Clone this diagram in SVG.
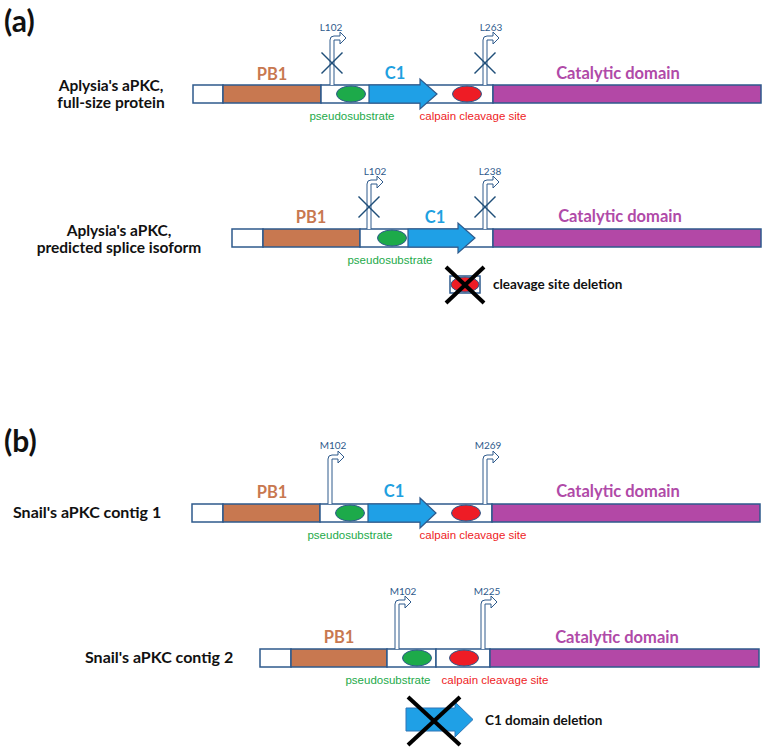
<svg xmlns="http://www.w3.org/2000/svg" width="766" height="752" viewBox="0 0 766 752">
<style>
.bg{fill:#ffffff}
.seg{stroke:#2E5A8C;stroke-width:1.5}
.w{fill:#ffffff}
.pb{fill:#C87850}
.cat{fill:#B348A6}
.c1{fill:#1FA0E6;stroke:#2E5A8C;stroke-width:1.2}
.ps{fill:#1DAA4A;stroke:#2E5A8C;stroke-width:1}
.cl{fill:#EE1C25;stroke:#2E5A8C;stroke-width:1}
.name{font-family:Lato,"Open Sans",sans-serif;font-weight:bold;font-size:16px;fill:#111111}
.name2{font-family:Lato,"Open Sans",sans-serif;font-weight:bold;font-size:15.5px;fill:#111111}
.panel{font-family:Lato,"Open Sans",sans-serif;font-weight:bold;font-size:30px;fill:#111111}
.dl{font-family:Lato,"Open Sans",sans-serif;font-weight:bold;font-size:16.5px}
.tpb{fill:#C87850}
.tc1{fill:#1EA0E0}
.tcat{fill:#B04AA8}
.small{font-family:"Liberation Sans",Arial,sans-serif;font-size:11.5px}
.tps{fill:#1DAA4A}
.tcl{fill:#EE1C25}
.site{font-family:Lato,"Open Sans",sans-serif;font-size:10px;fill:#2E5A8C}
.cross{stroke:#1F4E79;stroke-width:1.5;fill:none}
.bigx{stroke:#000000;stroke-width:4;fill:none}
.note{font-family:Lato,"Open Sans",sans-serif;font-weight:bold;font-size:13.5px;fill:#111111}
.bent{fill:#ffffff;stroke:#2E5A8C;stroke-width:1}
</style>
<defs>
<path id="bentArrow" class="bent" d="M -2,0 V -45 Q -2,-49 2,-49 H 8 V -53 L 14,-47 L 8,-41 V -45 H 2 V 0"/>
<g id="xmark"><line x1="-10.5" y1="-10.5" x2="10.5" y2="10.5"/><line x1="10.5" y1="-10.5" x2="-10.5" y2="10.5"/></g>
</defs>
<rect class="bg" x="0" y="0" width="766" height="752"/>

<text class="panel" x="4" y="32">(a)</text>
<text class="panel" x="4" y="452">(b)</text>

<!-- Row 1: Aplysia full-size -->
<g id="aplysia-full">
  <text class="name2" x="111" y="91" text-anchor="middle">Aplysia's aPKC,</text>
  <text class="name2" x="111" y="108" text-anchor="middle">full-size protein</text>
  <g id="r1-start"><rect class="seg w" x="193" y="85" width="30" height="18"/></g>
  <g id="r1-pb1"><rect class="seg pb" x="223" y="85" width="98" height="18"/><text class="dl tpb" x="272" y="80" text-anchor="middle">PB1</text></g>
  <g id="r1-mid"><rect class="seg w" x="321" y="85" width="172" height="18"/></g>
  <g id="r1-ps"><ellipse class="ps" cx="351" cy="94" rx="14.5" ry="8"/><text class="small tps" x="352" y="120" text-anchor="middle">pseudosubstrate</text></g>
  <g id="r1-c1"><polygon class="c1" points="369,85 420,85 420,79 437,94 420,109 420,103 369,103"/><text class="dl tc1" x="395" y="79" text-anchor="middle">C1</text></g>
  <g id="r1-cl"><ellipse class="cl" cx="467" cy="94" rx="14.5" ry="8"/><text class="small tcl" x="473" y="120" text-anchor="middle">calpain cleavage site</text></g>
  <g id="r1-cat"><rect class="seg cat" x="493" y="85" width="268" height="18"/><text class="dl tcat" x="618" y="79" text-anchor="middle">Catalytic domain</text></g>
  <g id="r1-L102"><use href="#bentArrow" x="332" y="85"/><use href="#xmark" class="cross" x="332" y="63"/><text class="site" x="331" y="31" text-anchor="middle">L102</text></g>
  <g id="r1-L263"><use href="#bentArrow" x="485" y="85"/><use href="#xmark" class="cross" x="485" y="63"/><text class="site" x="491" y="31" text-anchor="middle">L263</text></g>
</g>

<!-- Row 2: Aplysia splice isoform -->
<g id="aplysia-splice">
  <text class="name2" x="119" y="236" text-anchor="middle">Aplysia's aPKC,</text>
  <text class="name2" x="119" y="253" text-anchor="middle">predicted splice isoform</text>
  <g id="r2-start"><rect class="seg w" x="232" y="229" width="31" height="18"/></g>
  <g id="r2-pb1"><rect class="seg pb" x="263" y="229" width="97" height="18"/><text class="dl tpb" x="311" y="223" text-anchor="middle">PB1</text></g>
  <g id="r2-mid"><rect class="seg w" x="360" y="229" width="133" height="18"/></g>
  <g id="r2-ps"><ellipse class="ps" cx="392" cy="238" rx="14.5" ry="8"/><text class="small tps" x="390" y="264" text-anchor="middle">pseudosubstrate</text></g>
  <g id="r2-c1"><polygon class="c1" points="408,229 458,229 458,223 475,238 458,253 458,247 408,247"/><text class="dl tc1" x="435" y="223" text-anchor="middle">C1</text></g>
  <g id="r2-cat"><rect class="seg cat" x="493" y="229" width="268" height="18"/><text class="dl tcat" x="620" y="222" text-anchor="middle">Catalytic domain</text></g>
  <g id="r2-L102"><use href="#bentArrow" x="369" y="229"/><use href="#xmark" class="cross" x="369" y="207"/><text class="site" x="375" y="175" text-anchor="middle">L102</text></g>
  <g id="r2-L238"><use href="#bentArrow" x="485" y="229"/><use href="#xmark" class="cross" x="485" y="207"/><text class="site" x="490" y="175" text-anchor="middle">L238</text></g>
  <g id="r2-deletion">
    <rect class="seg w" x="450" y="276" width="30" height="17"/>
    <ellipse class="cl" cx="465" cy="284.5" rx="14" ry="7.5"/>
    <line class="bigx" x1="446" y1="267" x2="484" y2="303"/>
    <line class="bigx" x1="484" y1="267" x2="446" y2="303"/>
    <text class="note" x="493" y="289">cleavage site deletion</text>
  </g>
</g>

<!-- Row 3: Snail contig 1 -->
<g id="snail-contig1">
  <text class="name" x="13" y="518">Snail's aPKC contig 1</text>
  <g id="r3-start"><rect class="seg w" x="192" y="504" width="31" height="18"/></g>
  <g id="r3-pb1"><rect class="seg pb" x="223" y="504" width="97" height="18"/><text class="dl tpb" x="272" y="498" text-anchor="middle">PB1</text></g>
  <g id="r3-mid"><rect class="seg w" x="320" y="504" width="172" height="18"/></g>
  <g id="r3-ps"><ellipse class="ps" cx="350" cy="513" rx="14.5" ry="8"/><text class="small tps" x="350" y="539" text-anchor="middle">pseudosubstrate</text></g>
  <g id="r3-c1"><polygon class="c1" points="368,504 420,504 420,498 436,513 420,528 420,522 368,522"/><text class="dl tc1" x="394" y="497" text-anchor="middle">C1</text></g>
  <g id="r3-cl"><ellipse class="cl" cx="466" cy="513" rx="14.5" ry="8"/><text class="small tcl" x="473" y="539" text-anchor="middle">calpain cleavage site</text></g>
  <g id="r3-cat"><rect class="seg cat" x="492" y="504" width="268" height="18"/><text class="dl tcat" x="618" y="497" text-anchor="middle">Catalytic domain</text></g>
  <g id="r3-M102"><use href="#bentArrow" x="330" y="504"/><text class="site" x="333" y="449" text-anchor="middle">M102</text></g>
  <g id="r3-M269"><use href="#bentArrow" x="485" y="504"/><text class="site" x="488" y="449" text-anchor="middle">M269</text></g>
</g>

<!-- Row 4: Snail contig 2 -->
<g id="snail-contig2">
  <text class="name" x="85" y="663">Snail's aPKC contig 2</text>
  <g id="r4-start"><rect class="seg w" x="260" y="649" width="31" height="18"/></g>
  <g id="r4-pb1"><rect class="seg pb" x="291" y="649" width="96" height="18"/><text class="dl tpb" x="339" y="643" text-anchor="middle">PB1</text></g>
  <g id="r4-mid1"><rect class="seg w" x="387" y="649" width="49" height="18"/></g>
  <g id="r4-mid2"><rect class="seg w" x="436" y="649" width="54" height="18"/></g>
  <g id="r4-ps"><ellipse class="ps" cx="417" cy="658" rx="14.5" ry="8"/><text class="small tps" x="388" y="684" text-anchor="middle">pseudosubstrate</text></g>
  <g id="r4-cl"><ellipse class="cl" cx="464" cy="658" rx="14.5" ry="8"/><text class="small tcl" x="495" y="684" text-anchor="middle">calpain cleavage site</text></g>
  <g id="r4-cat"><rect class="seg cat" x="490" y="649" width="269" height="18"/><text class="dl tcat" x="617" y="643" text-anchor="middle">Catalytic domain</text></g>
  <g id="r4-M102"><use href="#bentArrow" x="397" y="649"/><text class="site" x="403" y="595" text-anchor="middle">M102</text></g>
  <g id="r4-M225"><use href="#bentArrow" x="483" y="649"/><text class="site" x="487" y="595" text-anchor="middle">M225</text></g>
  <g id="r4-deletion">
    <polygon points="406,708 455,708 455,702 473,719.5 455,737 455,731 406,731" fill="#1FA0E6" stroke="#2E75B6" stroke-width="1"/>
    <line class="bigx" x1="408" y1="697" x2="460" y2="745"/>
    <line class="bigx" x1="460" y1="697" x2="408" y2="745"/>
    <text class="note" x="485" y="725">C1 domain deletion</text>
  </g>
</g>
</svg>
